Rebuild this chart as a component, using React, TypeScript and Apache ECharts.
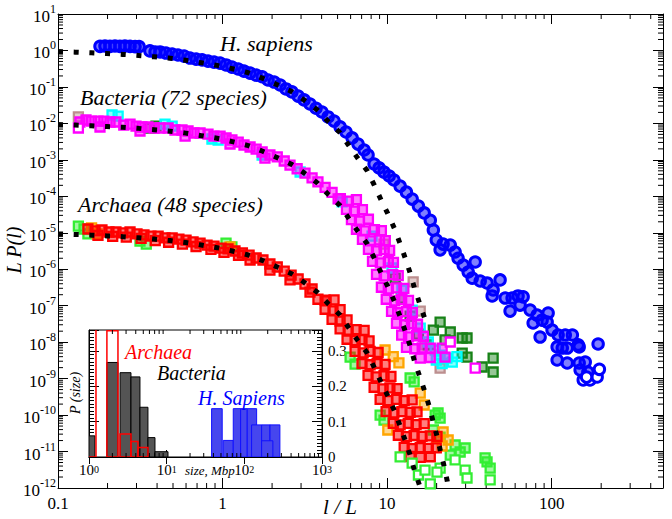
import React, { useEffect, useRef } from 'react';
import * as echarts from 'echarts';

const FONT = '"Liberation Serif", "Times New Roman", serif';

// ---------- main panel data: [l/L, L P(l)] ----------
const hSapiens = [
  [0.180,1.30],[0.193,1.33],[0.207,1.30],[0.222,1.33],[0.238,1.30],[0.255,1.33],[0.274,1.30],[0.294,1.27],[0.311,1.27],
  [0.362,0.97],[0.389,0.91],[0.417,0.91],[0.453,0.85],[0.494,0.80],[0.536,0.75],[0.584,0.70],[0.634,0.62],[0.691,0.58],
  [0.751,0.55],[0.816,0.51],[0.888,0.48],[0.966,0.45],[1.05,0.40],[1.14,0.35],[1.245,0.31],[1.35,0.27],[1.47,0.24],
  [1.60,0.21],[1.74,0.19],[1.89,0.155],[2.06,0.136],[2.24,0.113],[2.43,0.088],[2.64,0.073],[2.88,0.056],[3.13,0.044],
  [3.40,0.034],[3.70,0.026],[4.02,0.0205],[4.38,0.015],[4.76,0.0116],[5.18,0.008],[5.63,0.0058],[6.13,0.004],
  [6.66,0.0027],[7.25,0.00186],[7.66,0.00136],
  [8.34,7.7e-4],[8.94,6.0e-4],[9.58,4.6e-4],[10.3,3.6e-4],[11.0,2.8e-4],[12.0,1.9e-4],[13.1,1.3e-4],[14.2,8.4e-5],
  [15.5,5.4e-5],[16.8,3.5e-5],[18.3,2.2e-5],[19.1,1.19e-5],
  [19.9,6.3e-6],[21.9,4.9e-6],[24.2,4.6e-6],[21.0,3.4e-6],[25.9,2.97e-6],[27.0,2.0e-6],[29.0,1.3e-6],[31.1,8.4e-7],
  [34.3,1.58e-6],[32.9,5.7e-7],[36.8,4.75e-7],[40.5,4.2e-7],[44.1,2.7e-7],[48.6,5.1e-7],[43.5,1.85e-7],[52.2,1.62e-7],
  [57.5,1.62e-7],[62.5,1.85e-7],[67.1,1.75e-7],[55.9,7.1e-8],[64.3,1.04e-7],[74.0,7.6e-8],[81.6,5.5e-8],[95.2,6.3e-8],
  [77.2,3.35e-8],[87.5,4.0e-8],[93.9,3.56e-8],[85.1,1.38e-8],[100.6,2.15e-8],[109.5,1.57e-8],[121,1.57e-8],
  [133.6,1.57e-8],[145,8.4e-9],[191.6,8.9e-9],[108,7.4e-9],[116,6.9e-9],[124.4,6.9e-9],[147,7.4e-9],[108,3.24e-9],
  [124.4,2.68e-9],[147,2.68e-9],[160,2.85e-9],[149,1.72e-9],[166,1.52e-9],
];
const hSapiensOpen = [[155.6,9.2e-10],[171,9.2e-10],[189,1.11e-9],[195,1.8e-9],[163,1.1e-9]];

const bacMagenta = [
  [0.136,0.0109],[0.148,0.0124],[0.160,0.0116],[0.175,0.0116],[0.190,0.0116],[0.207,0.0109],[0.225,0.0109],
  [0.251,9.0e-3],[0.274,9.6e-3],[0.298,8.45e-3],[0.324,7.96e-3],[0.352,7.96e-3],[0.384,7.47e-3],[0.417,7.47e-3],
  [0.467,7.47e-3],[0.514,6.58e-3],[0.567,6.58e-3],[0.617,6.18e-3],[0.671,5.45e-3],[0.730,5.45e-3],[0.816,5.1e-3],
  [0.887,4.5e-3],[0.966,4.5e-3],[1.05,3.97e-3],[1.14,3.5e-3],[1.245,3.08e-3],[1.35,2.55e-3],[1.47,2.25e-3],
  [1.60,1.98e-3],[1.74,1.64e-3],[1.94,1.36e-3],[2.15,1.2e-3],[2.37,9.3e-4],[2.57,7.2e-4],[2.84,5.7e-4],[3.17,4.35e-4],
  [3.50,3.2e-4],[3.80,2.5e-4],[4.20,1.75e-4],[4.63,1.28e-4],[5.04,8.5e-5],
  [0.180,7.96e-3],[0.315,6.18e-3],[0.592,4.5e-3],[1.11,2.72e-3],[1.81,1.12e-3],
  [5.20,8.6e-5],[5.82,7.4e-5],[6.51,8.1e-5],
  [5.66,4.4e-5],[6.33,3.9e-5],[7.08,4.3e-5],
  [6.07,2.3e-5],[6.79,2.1e-5],[7.70,2.35e-5],
  [6.51,1.25e-5],[7.28,1.12e-5],[8.38,1.22e-5],[9.23,1.15e-5],
  [7.08,6.6e-6],[7.92,6.0e-6],[8.99,6.4e-6],[9.75,6.1e-6],
  [7.70,3.5e-6],[8.62,3.2e-6],[9.60,3.45e-6],[10.36,3.3e-6],
  [8.15,1.65e-6],[9.10,1.5e-6],[10.17,1.62e-6],[10.93,1.55e-6],
  [8.62,7.2e-7],[9.60,6.6e-7],[10.83,7.1e-7],[11.69,6.7e-7],
  [9.23,3.2e-7],[10.17,2.9e-7],[11.4,3.1e-7],[12.64,3.0e-7],
  [9.88,1.5e-7],[11.12,1.36e-7],[12.26,1.46e-7],[13.49,1.4e-7],
  [10.64,7.0e-8],[11.59,6.4e-8],[13.11,6.9e-8],[14.25,6.5e-8],
  [11.4,3.3e-8],[12.78,3.0e-8],[14.06,3.2e-8],[15.3,3.1e-8],
  [12.26,1.55e-8],[13.49,1.4e-8],[15.1,1.5e-8],[16.6,1.45e-8],
  [13.11,7.2e-9],[14.73,6.6e-9],[16.34,7.0e-9],[18.3,6.8e-9],
  [15.9,3.67e-9],[18.3,3.8e-9],[21.6,6.9e-9],[22.5,3.9e-9],
];
const bacMagentaOpen = [[0.133,7.47e-3],[24.2,1.01e-8],[34.3,1.95e-9]];
const bacCyan = [
  [0.213,0.0170],[0.232,0.0159],[0.447,9.6e-3],[0.494,8.45e-3],[0.862,3.73e-3],[0.94,3.5e-3],[1.74,1.36e-3],
  [2.96,4.64e-4],[5.33,7.0e-5],[8.10,8.1e-6],[10.7,1.08e-6],[12.3,2.69e-7],[14.2,7.6e-8],[15.9,2.44e-8],
  [17.8,1.01e-8],[19.6,6.1e-9],[21.0,4.4e-9],[23.1,3.67e-9],[24.9,2.85e-9],[26.6,4.0e-9],[21.6,2.6e-9],[19.9,3.24e-9],
];
const bacBrown = [[0.133,0.0150],[9.58,4.9e-6],[14.4,4.5e-7],[15.9,7.1e-8],[21.0,1.95e-9],[17.0,8.4e-9]];
const bacDarkGreen = [
  [0.362,7.47e-3],[0.394,8.45e-3],[11.2,5.7e-7],[12.2,1.62e-7],[13.8,5.2e-8],[15.5,1.67e-8],[19.1,2.15e-8],
  [21.0,3.56e-8],[22.5,1.15e-8],[24.2,1.9e-8],[28.6,1.3e-8],[30.6,1.3e-8],[28.6,5.0e-9],[30.6,3.9e-9],
  [37.8,2.08e-9],[44.1,3.67e-9],[44.1,1.52e-9],[17.8,8.4e-9],
];

const arcRed = [
  [0.152,1.27e-5],[0.168,1.12e-5],[0.185,1.19e-5],[0.204,1.05e-5],[0.225,1.05e-5],[0.248,9.9e-6],[0.274,1.05e-5],
  [0.302,9.3e-6],[0.333,8.7e-6],[0.367,8.1e-6],[0.406,8.1e-6],[0.447,7.2e-6],[0.494,7.2e-6],[0.543,6.7e-6],
  [0.600,6.3e-6],[0.662,5.6e-6],[0.730,5.2e-6],[0.805,4.6e-6],[0.887,4.3e-6],[0.98,3.8e-6],[1.08,3.6e-6],
  [1.19,3.16e-6],[1.32,2.79e-6],[1.45,2.45e-6],[1.60,2.03e-6],[1.76,1.79e-6],[1.94,1.39e-6],[2.15,1.15e-6],
  [2.37,8.9e-7],[2.61,6.9e-7],[2.88,5.4e-7],[3.17,3.94e-7],[3.50,2.87e-7],
  [0.175,8.5e-6],[0.215,8.0e-6],[0.26,7.6e-6],[0.32,7.0e-6],[0.39,6.1e-6],[0.47,5.5e-6],[0.57,4.9e-6],
  [0.69,4.2e-6],[0.85,3.5e-6],[1.02,2.9e-6],[1.25,2.4e-6],
  [1.47,1.79e-6],[1.94,9.5e-7],[2.57,5.1e-7],[3.40,2.37e-7],[4.20,1.43e-7],
  [3.80,1.5e-7],[4.26,1.35e-7],[4.76,1.45e-7],
  [4.20,8.0e-8],[4.69,7.2e-8],[5.18,7.8e-8],
  [4.63,4.2e-8],[5.18,3.8e-8],[5.71,4.1e-8],
  [5.18,2.3e-8],[5.80,2.0e-8],[6.48,2.2e-8],[7.25,2.1e-8],
  [5.71,1.2e-8],[6.39,1.1e-8],[7.04,1.18e-8],[7.77,1.08e-8],
  [6.39,5.6e-9],[7.15,5.1e-9],[7.88,5.6e-9],[8.82,5.2e-9],
  [7.04,2.6e-9],[7.88,2.4e-9],[8.70,2.6e-9],[9.72,2.45e-9],
  [7.66,1.22e-9],[8.58,1.12e-9],[9.58,1.2e-9],[10.55,1.15e-9],
  [8.34,5.8e-10],[9.46,5.2e-10],[10.4,5.6e-10],[11.5,5.3e-10],
  [9.07,2.7e-10],[10.1,2.5e-10],[11.4,2.7e-10],[12.7,2.5e-10],[14.2,2.6e-10],
  [9.86,1.25e-10],[11.0,1.15e-10],[12.3,1.25e-10],[13.8,1.18e-10],[15.2,1.22e-10],
  [10.9,5.9e-11],[12.0,5.4e-11],[13.45,5.9e-11],[15.0,5.5e-11],[16.8,5.8e-11],
  [11.7,2.8e-11],[13.1,2.55e-11],[14.6,2.75e-11],[16.3,2.6e-11],[18.3,2.7e-11],[20.1,2.6e-11],
  [12.7,1.3e-11],[14.2,1.2e-11],[15.9,1.28e-11],[17.8,1.22e-11],[19.9,1.26e-11],
  [13.8,7.3e-12],[15.9,6.9e-12],[18.3,7.2e-12],
];
const arcOrange = [
  [0.160,1.35e-5],[0.173,9.3e-6],[1.11,4.1e-6],[9.72,6.1e-9],[10.9,4.0e-9],[11.8,2.7e-9],[15.9,4.0e-10],
  [16.8,1.89e-10],[10.1,3.9e-11],[21.9,3.43e-11],[23.5,2.07e-11],[21.6,1.42e-11],[20.1,2.5e-11],
];
const arcLime = [
  [0.133,1.53e-5],[0.144,1.27e-5],[0.152,9.3e-6],[0.315,5.9e-6],[0.344,4.9e-6],[1.05,5.2e-6],[1.14,4.1e-6],
  [5.96,3.9e-9],[6.39,2.5e-9],[13.8,1.04e-9],[14.6,8.1e-10],[9.07,1.0e-10],[9.58,7.3e-11],[19.6,1.0e-10],
  [21.0,8.3e-11],[20.4,1.14e-10],[19.1,3.9e-11],[21.0,2.5e-11],[25.9,1.51e-11],[27.8,9.7e-12],[29.8,1.25e-11],
  [24.2,8.0e-12],[40.5,5.2e-12],[42.3,3.5e-12],[39.4,6.7e-12],
];
const arcLimeOpen = [
  [12.0,7.1e-12],[14.2,4.8e-12],[15.5,2.27e-12],[21.0,3.5e-12],[20.1,2.74e-12],[29.8,3.11e-12],[30.6,1.88e-12],
  [42.3,1.66e-12],[18.3,1.29e-12],[25.9,5.9e-12],[17.0,3.11e-12],
];

// fitted curves (dotted)
const fitSapiens = [
  [0.1,0.93],[0.127,0.90],[0.159,0.86],[0.198,0.82],[0.247,0.78],[0.308,0.73],[0.383,0.67],[0.480,0.61],[0.597,0.54],
  [0.743,0.46],[0.926,0.39],[1.147,0.316],[1.435,0.245],[1.755,0.172],[2.166,0.113],[2.646,0.074],[3.13,0.0438],
  [3.77,0.0233],[4.40,0.0111],[5.18,5.55e-3],[5.82,2.55e-3],[6.64,1.10e-3],[7.59,4.94e-4],[8.37,1.99e-4],[9.20,7.9e-5],
  [10.1,3.33e-5],[11.07,1.32e-5],[12.0,5.0e-6],[12.86,2.07e-6],[13.8,7.9e-7],[14.66,3.05e-7],[15.71,1.21e-7],[16.9,4.6e-8],
];
const fitBacteria = [
  [0.1,9.3e-3],[0.127,9.0e-3],[0.159,8.6e-3],[0.198,8.2e-3],[0.247,7.8e-3],[0.308,7.3e-3],[0.383,6.7e-3],[0.480,6.1e-3],
  [0.597,5.4e-3],[0.743,4.6e-3],[0.926,3.9e-3],[1.147,3.16e-3],[1.435,2.45e-3],[1.755,1.72e-3],[2.166,1.13e-3],
  [2.646,7.4e-4],[3.13,4.38e-4],[3.77,2.33e-4],[4.40,1.11e-4],[5.18,5.55e-5],[5.82,2.55e-5],[6.64,1.10e-5],[7.59,4.94e-6],
  [8.37,1.99e-6],[9.20,7.9e-7],[10.1,3.33e-7],[11.07,1.32e-7],[12.0,5.0e-8],[12.86,2.07e-8],[13.8,7.9e-9],[14.66,3.05e-9],
  [15.71,1.21e-9],[16.9,4.6e-10],[18.0,1.77e-10],[19.0,6.9e-11],[20.1,2.67e-11],[21.1,1.03e-11],[22.2,4.0e-12],
  [23.2,1.55e-12],[23.8,7e-13],
];
const fitArchaea = [
  [0.1,9.3e-6],[0.127,9.0e-6],[0.159,8.6e-6],[0.198,8.2e-6],[0.247,7.8e-6],[0.308,7.3e-6],[0.383,6.7e-6],[0.480,6.1e-6],
  [0.597,5.4e-6],[0.743,4.6e-6],[0.926,3.9e-6],[1.147,3.16e-6],[1.435,2.45e-6],[1.755,1.72e-6],[2.166,1.13e-6],
  [2.646,7.4e-7],[3.13,4.38e-7],[3.77,2.33e-7],[4.40,1.11e-7],[5.18,5.55e-8],[5.82,2.55e-8],[6.64,1.10e-8],[7.59,4.94e-9],
  [8.37,1.99e-9],[9.20,7.9e-10],[10.1,3.33e-10],[11.07,1.32e-10],[12.0,5.0e-11],[12.86,2.07e-11],[13.8,7.9e-12],
  [14.66,3.05e-12],[15.71,1.21e-12],[16.3,6e-13],
];

// ---------- inset histogram data: [size from, size to, P] ----------
const histBacteria = [[1.0,1.19,0.06],[1.70,2.36,0.268],[2.51,3.47,0.239],[3.47,4.53,0.227],[4.53,5.74,0.141],[5.74,7.07,0.055],[7.07,10.4,0.015]];
const histArchaea = [[0.9,1.23,0.5],[1.70,2.36,0.358],[2.51,3.47,0.065],[3.47,4.27,0.044],[4.27,5.74,0.027]];
const histSapiens = [[37.9,51.9,0.137],[53.5,72.0,0.047],[72.0,89.6,0.137],[89.6,109,0.137],[109,144,0.137],[124,167,0.091],[167,214,0.091],[214,287,0.091],[167,233,0.046]];

// ---------- axes ----------
const MAIN_X = [0.1, 475];
const MAIN_Y = [1e-12, 10];
const mainXLabels = ['0.1', '1', '10', '100'];
const mainXDecades = [0.1, 1, 10, 100];
const mainYDecades = [1e-12,1e-11,1e-10,1e-9,1e-8,1e-7,1e-6,1e-5,1e-4,1e-3,1e-2,1e-1,1];
const insetXDecades = [1, 10, 100];
const minorMult = [2,3,4,5,6,7,8,9];
const INSET_Y_MAX = 0.36;

export default function App() {
  const ref = useRef<HTMLDivElement>(null);
  useEffect(() => {
    const chart = echarts.init(ref.current!, null, { renderer: 'svg' });

    const mainXMinor: number[] = [];
    mainXDecades.forEach(d => minorMult.forEach(m => { if (d * m < MAIN_X[1]) mainXMinor.push(d * m); }));
    const mainYMinor: number[] = [];
    mainYDecades.forEach(d => minorMult.forEach(m => mainYMinor.push(d * m)));
    const insetXMinor: number[] = [];
    insetXDecades.forEach(d => minorMult.forEach(m => insetXMinor.push(d * m)));

    const tickStyle = { stroke: '#000', lineWidth: 1 };
    const xMinorRender = (yLo: number, yHi: number, len: number) => (params: any, api: any) => {
      const v = api.value(0);
      const b = api.coord([v, yLo]);
      const t = api.coord([v, yHi]);
      return { type: 'group', children: [
        { type: 'line', shape: { x1: b[0], y1: b[1], x2: b[0], y2: b[1] - len }, style: tickStyle },
        { type: 'line', shape: { x1: t[0], y1: t[1], x2: t[0], y2: t[1] + len }, style: tickStyle },
      ] };
    };
    const yMinorRender = (xLo: number, xHi: number, len: number) => (params: any, api: any) => {
      const v = api.value(1);
      const l = api.coord([xLo, v]);
      const r = api.coord([xHi, v]);
      return { type: 'group', children: [
        { type: 'line', shape: { x1: l[0], y1: l[1], x2: l[0] + len, y2: l[1] }, style: tickStyle },
        { type: 'line', shape: { x1: r[0], y1: r[1], x2: r[0] - len, y2: r[1] }, style: tickStyle },
      ] };
    };

    const scatter = (data: number[][], border: string, fill: string, symbol: string, size: number, bw: number) => ({
      type: 'scatter', xAxisIndex: 0, yAxisIndex: 0, data, symbol, symbolSize: size, silent: true,
      itemStyle: { color: fill, borderColor: border, borderWidth: bw, opacity: 1 },
    });
    const sq = (data: number[][], border: string, fill: string) => scatter(data, border, fill, 'rect', 9, 2.3);
    const fit = (data: number[][]) => ({
      type: 'line', xAxisIndex: 0, yAxisIndex: 0, data, showSymbol: false, silent: true, smooth: false,
      lineStyle: { color: '#000', width: 5, type: [5, 10.7], cap: 'butt' },
    });
    const hist = (data: number[][], fill: string, stroke: string, lw: number) => ({
      type: 'custom', xAxisIndex: 2, yAxisIndex: 2, data, clip: true, silent: true, encode: { x: [0, 1], y: 2 },
      renderItem: (params: any, api: any) => {
        const p0 = api.coord([api.value(0), api.value(2)]);
        const p1 = api.coord([api.value(1), 0]);
        return { type: 'rect', shape: { x: p0[0], y: p0[1], width: p1[0] - p0[0], height: p1[1] - p0[1] },
          style: { fill, stroke, lineWidth: lw } };
      },
    });

    const supRich = (base: number, sup: number, lh: number) => ({
      b: { fontFamily: FONT, fontSize: base, color: '#000', lineHeight: lh, verticalAlign: 'bottom' },
      s: { fontFamily: FONT, fontSize: sup, color: '#000', lineHeight: lh, verticalAlign: 'top' },
    });
    const pow10 = (v: number) => {
      const e = Math.log10(v);
      if (Math.abs(e - Math.round(e)) > 1e-6) return '';
      return `{b|10}{s|${Math.round(e)}}`;
    };

    const axisLine = { show: true, lineStyle: { color: '#000', width: 1 } };

    const option: any = {
      animation: false,
      backgroundColor: '#fff',
      grid: [
        { left: 58, top: 14, width: 605, height: 474, show: false },
        { left: 89, top: 330, width: 233, height: 127, show: true, backgroundColor: '#fff', borderColor: '#000', borderWidth: 1 },
      ],
      xAxis: [
        { type: 'log', gridIndex: 0, min: MAIN_X[0], max: MAIN_X[1], interval: 1, position: 'bottom',
          axisLine, axisTick: { inside: true, length: 10, lineStyle: { color: '#000' } }, splitLine: { show: false },
          axisLabel: { margin: 7, fontFamily: FONT, fontSize: 17, color: '#000',
            formatter: (v: number) => { const i = mainXDecades.findIndex(d => Math.abs(d - v) / d < 1e-6); return i < 0 ? '' : mainXLabels[i]; } } },
        { type: 'log', gridIndex: 0, min: MAIN_X[0], max: MAIN_X[1], interval: 1, position: 'top',
          axisLine, axisTick: { inside: true, length: 10, lineStyle: { color: '#000' } }, splitLine: { show: false },
          axisLabel: { show: false } },
        { type: 'log', gridIndex: 1, min: 1, max: 1000, interval: 1, position: 'bottom',
          axisLine, axisTick: { inside: true, length: 7, lineStyle: { color: '#000' } }, splitLine: { show: false },
          axisLabel: { margin: 7, formatter: pow10, rich: supRich(15, 10, 13) } },
        { type: 'log', gridIndex: 1, min: 1, max: 1000, interval: 1, position: 'top',
          axisLine, axisTick: { inside: true, length: 7, lineStyle: { color: '#000' } }, splitLine: { show: false },
          axisLabel: { show: false } },
      ],
      yAxis: [
        { type: 'log', gridIndex: 0, min: MAIN_Y[0], max: MAIN_Y[1], interval: 1, position: 'left',
          axisLine, axisTick: { inside: true, length: 10, lineStyle: { color: '#000' } }, splitLine: { show: false },
          axisLabel: { margin: 2, formatter: pow10, rich: supRich(17, 12, 22) } },
        { type: 'log', gridIndex: 0, min: MAIN_Y[0], max: MAIN_Y[1], interval: 1, position: 'right',
          axisLine, axisTick: { inside: true, length: 10, lineStyle: { color: '#000' } }, splitLine: { show: false },
          axisLabel: { show: false } },
        { type: 'value', gridIndex: 1, min: 0, max: INSET_Y_MAX, interval: 0.1, position: 'left',
          axisLine, axisTick: { inside: true, length: 10, lineStyle: { color: '#000' } },
          minorTick: { show: true, splitNumber: 10, length: 5, lineStyle: { color: '#000' } },
          splitLine: { show: false }, minorSplitLine: { show: false }, axisLabel: { show: false } },
        { type: 'value', gridIndex: 1, min: 0, max: INSET_Y_MAX, interval: 0.1, position: 'right',
          axisLine, axisTick: { inside: true, length: 10, lineStyle: { color: '#000' } },
          minorTick: { show: true, splitNumber: 10, length: 5, lineStyle: { color: '#000' } },
          splitLine: { show: false }, minorSplitLine: { show: false },
          axisLabel: { margin: 6, fontFamily: FONT, fontSize: 15, lineHeight: 11, color: '#000',
            formatter: (v: number) => (Math.abs(v * 10 - Math.round(v * 10)) > 1e-6 ? '' : String(Math.round(v * 10) / 10)) } },
      ],
      series: [
        { type: 'custom', xAxisIndex: 0, yAxisIndex: 0, silent: true, data: mainXMinor.map(v => [v, 1]), renderItem: xMinorRender(MAIN_Y[0], MAIN_Y[1], 5) },
        { type: 'custom', xAxisIndex: 0, yAxisIndex: 0, silent: true, data: mainYMinor.map(v => [1, v]), renderItem: yMinorRender(MAIN_X[0], MAIN_X[1], 5) },
        sq(arcLime, '#33ee33', 'rgba(51,238,51,0.45)'),
        sq(arcOrange, '#ffa500', 'rgba(255,165,0,0.45)'),
        sq(arcRed, '#ff0000', 'rgba(255,0,0,0.5)'),
        sq(arcLimeOpen, '#33ee33', '#ffffff'),
        sq(bacBrown, '#bc8f8f', 'rgba(188,143,143,0.45)'),
        sq(bacDarkGreen, '#178217', 'rgba(23,130,23,0.45)'),
        sq(bacCyan, '#00ffff', 'rgba(0,255,255,0.45)'),
        sq(bacMagenta, '#ff00ff', 'rgba(255,0,255,0.5)'),
        sq(bacMagentaOpen, '#ff00ff', '#ffffff'),
        scatter(hSapiens, '#0000ff', 'rgba(0,0,255,0.5)', 'circle', 10.5, 3),
        scatter(hSapiensOpen, '#0000ff', '#ffffff', 'circle', 10.5, 3),
        fit(fitSapiens),
        fit(fitBacteria),
        fit(fitArchaea),
        // inset
        hist(histBacteria, '#545454', '#000', 1),
        hist(histSapiens, '#4646ee', '#1010ff', 1),
        hist(histArchaea, 'none', '#ff0000', 1.5),
        { type: 'custom', xAxisIndex: 2, yAxisIndex: 2, silent: true, data: insetXMinor.map(v => [v, 0.1]), renderItem: xMinorRender(0, INSET_Y_MAX, 4) },
      ],
      graphic: [
        { type: 'text', x: 220, y: 43, z: 100, style: { text: 'H. sapiens', font: `italic 22px ${FONT}`, fill: '#000', verticalAlign: 'middle' } },
        { type: 'text', x: 80, y: 97, z: 100, style: { text: 'Bacteria (72 species)', font: `italic 22px ${FONT}`, fill: '#000', verticalAlign: 'middle' } },
        { type: 'text', x: 78, y: 204, z: 100, style: { text: 'Archaea (48 species)', font: `italic 22px ${FONT}`, fill: '#000', verticalAlign: 'middle' } },
        { type: 'text', x: 14, y: 250, rotation: Math.PI / 2, z: 100, style: { text: 'L P(l)', font: `italic 20px ${FONT}`, fill: '#000', align: 'center', verticalAlign: 'middle' } },
        { type: 'text', x: 340, y: 507, z: 100, style: { text: 'l / L', font: `italic 21px ${FONT}`, fill: '#000', align: 'center', verticalAlign: 'middle' } },
        { type: 'text', x: 125, y: 352, z: 100, style: { text: 'Archaea', font: `italic 20px ${FONT}`, fill: '#ff0000', verticalAlign: 'middle' } },
        { type: 'text', x: 157, y: 373, z: 100, style: { text: 'Bacteria', font: `italic 20px ${FONT}`, fill: '#000', verticalAlign: 'middle' } },
        { type: 'text', x: 198, y: 398, z: 100, style: { text: 'H. Sapiens', font: `italic 20px ${FONT}`, fill: '#0000ff', verticalAlign: 'middle' } },
        { type: 'text', x: 75, y: 393, rotation: Math.PI / 2, z: 100, style: { text: 'P (size)', font: `italic 14px ${FONT}`, fill: '#000', align: 'center', verticalAlign: 'middle' } },
        { type: 'text', x: 185, y: 470, z: 100, style: { text: 'size, Mbp', font: `italic 13px ${FONT}`, fill: '#000', verticalAlign: 'middle' } },
      ],
    };
    chart.setOption(option);
    return () => chart.dispose();
  }, []);
  return <div ref={ref} style={{ position: 'fixed', left: 0, top: 0, width: 672, height: 519 }} />;
}
